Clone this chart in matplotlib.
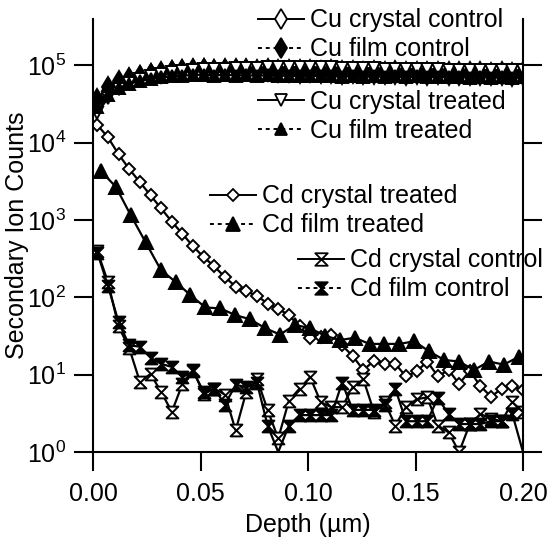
import matplotlib

matplotlib.use("Agg")

import matplotlib.pyplot as plt
import matplotlib.ticker as mticker
import numpy as np
from matplotlib.legend import Legend
from matplotlib.lines import Line2D
from matplotlib.path import Path

plt.rcParams["font.family"] = ["Liberation Sans", "DejaVu Sans"]
plt.rcParams["mathtext.default"] = "regular"

# ── data (counts) ──
depth = np.linspace(0.002, 0.2, 41)          # common depth grid, µm
depth_cd_film_treated = np.linspace(0.0037, 0.198, 29)

cu_crystal_control = [33000, 47000, 58000, 66000, 72000, 77000, 80000, 84000, 86000, 89000,
                      90000, 88000, 91000, 89000, 90000, 88000, 89000, 87000, 88000, 86000,
                      87000, 85000, 86000, 84000, 85000, 83000, 84000, 83000, 84000, 82000,
                      83000, 82000, 83000, 81000, 82000, 81000, 82000, 80000, 81000, 80000, 81000]
cu_film_control = [37000, 52000, 62000, 69000, 74000, 78000, 82000, 85000, 87000, 88000,
                   89000, 87000, 88000, 86000, 87000, 84000, 85000, 82000, 83000, 80000,
                   81000, 79000, 80000, 78000, 79000, 77000, 78000, 77000, 78000, 76000,
                   77000, 76000, 77000, 75000, 76000, 75000, 76000, 75000, 76000, 74000, 75000]
cu_crystal_treated = [24000, 38000, 50000, 59000, 66000, 72000, 77000, 81000, 84000, 87000,
                      89000, 90000, 91000, 92000, 93000, 93000, 94000, 94000, 95000, 95000,
                      95000, 94000, 94000, 93000, 93000, 92000, 92000, 91000, 91000, 90000,
                      90000, 89000, 89000, 88000, 88000, 88000, 87000, 87000, 87000, 86000, 86000]
cu_film_treated = [29000, 41000, 51000, 58000, 63000, 67000, 70000, 72000, 74000, 75000,
                   76000, 74000, 76000, 74000, 75000, 73000, 75000, 73000, 74000, 72000,
                   74000, 72000, 73000, 71000, 73000, 71000, 72000, 71000, 72000, 70000,
                   72000, 70000, 71000, 70000, 71000, 69000, 71000, 69000, 70000, 69000, 70000]
cd_crystal_treated = [17000, 11750, 7080, 4570, 3090, 2090, 1410, 955, 661, 457,
                      331, 251, 182, 138, 120, 105, 83, 71, 59, 42,
                      30, 31, 33, 24, 17.4, 11.5, 15.1, 13.8, 13.8, 9.5,
                      11.0, 14.8, 9.5, 11.5, 7.6, 11.2, 7.1, 5.2, 6.6, 7.1, 6.3]
cd_film_treated = [4270, 2690, 1150, 513, 229, 158, 107, 74, 72, 59,
                   52, 40, 33, 44, 40, 32, 28, 30, 25, 25,
                   25, 27, 20, 15.5, 14.8, 11.5, 14.8, 13.5, 17]
cd_crystal_control = [398, 158, 42, 22, 8.1, 10.2, 6.0, 3.3, 7.6, 11.5,
                      5.6, 6.6, 5.5, 1.9, 6.0, 8.9, 3.5, 1.5, 4.6, 6.6,
                      9.3, 4.4, 3.8, 3.8, 6.9, 8.7, 3.3, 4.4, 2.2, 3.8,
                      4.8, 5.1, 2.2, 1.8, 1.0, 2.3, 3.1, 2.7, 2.5, 4.4, 3.3]
cd_film_control = [380, 141, 48, 24, 23, 16.6, 13.8, 12.6, 9.3, 11.0,
                   6.0, 6.6, 4.1, 7.4, 6.9, 7.9, 2.2, 0, 2.2, 3.0,
                   3.0, 3.0, 3.0, 7.9, 3.5, 3.5, 3.5, 4.1, 6.6, 2.5,
                   2.5, 2.5, 5.0, 3.1, 2.3, 2.3, 2.3, 2.5, 2.5, 3.1, 0]

labels = ["Cu crystal control", "Cu film control", "Cu crystal treated", "Cu film treated",
          "Cd crystal treated", "Cd film treated", "Cd crystal control", "Cd film control"]

hourglass = Path([(-1, 1), (1, 1), (-1, -1), (1, -1), (-1, 1)],
                 [Path.MOVETO, Path.LINETO, Path.LINETO, Path.LINETO, Path.CLOSEPOLY])

# marker, filled, size
styles = {
    "Cu crystal control": ("d", False, 10),
    "Cu film control": ("d", True, 10),
    "Cu crystal treated": ("v", False, 8.5),
    "Cu film treated": ("^", True, 8.5),
    "Cd crystal treated": ("D", False, 6),
    "Cd film treated": ("^", True, 9.5),
    "Cd crystal control": (hourglass, False, 8.5),
    "Cd film control": (hourglass, True, 8.5),
}

series = [
    (depth, cu_crystal_control), (depth, cu_film_control),
    (depth, cu_crystal_treated), (depth, cu_film_treated),
    (depth, cd_crystal_treated), (depth_cd_film_treated, cd_film_treated),
    (depth, cd_crystal_control), (depth, cd_film_control),
]

W, H = 550, 538
FS = 18
fig = plt.figure(figsize=(W / 100, H / 100), dpi=100)
ax = fig.add_axes([93 / W, (H - 452) / H, (523 - 93) / W, (452 - 19) / H])

for name, (x, y) in zip(labels, series):
    m, filled, ms = styles[name]
    y = np.asarray(y, dtype=float)
    # zero counts: line drops to the axis floor, no marker drawn there
    keep = np.flatnonzero(y > 0).tolist()
    ax.plot(x, np.where(y > 0, y, 1.0), color="black", linewidth=1.6, marker=m, markersize=ms,
            markevery=keep, markerfacecolor="black" if filled else "white",
            markeredgecolor="black", markeredgewidth=1.4)

ax.set_yscale("log")
ax.set_xlim(0, 0.2)
ax.set_ylim(1, 10 ** 5.6)
ax.set_xticks([0, 0.05, 0.1, 0.15, 0.2])
ax.xaxis.set_major_formatter(mticker.FuncFormatter(lambda v, _: f"{v:.2f}"))
ax.yaxis.set_major_locator(mticker.LogLocator(base=10, numticks=10))
ax.yaxis.set_minor_locator(mticker.NullLocator())
ax.yaxis.set_major_formatter(mticker.FuncFormatter(lambda v, _: r"$10^{%d}$" % round(np.log10(v))))

for s in ["left", "right", "bottom"]:
    ax.spines[s].set_linewidth(1.5)
ax.spines["top"].set_visible(False)
ax.tick_params(which="major", direction="out", length=13.5, width=1.5,
               labelsize=FS, right=True, pad=6)
ax.tick_params(axis="x", pad=8)
ax.set_xlabel("Depth (µm)", fontsize=FS, labelpad=5)
ax.set_ylabel("Secondary Ion Counts", fontsize=FS)
ax.yaxis.set_label_coords(-0.148, 0.5)


def add_legend(names, x_px, y_px):
    handles = []
    for name in names:
        m, filled, ms = styles[name]
        ls = (0, (2, 2)) if "film" in name else "-"
        handles.append(Line2D([], [], color="black", linewidth=1.4, linestyle=ls, marker=m,
                              markersize=ms + 0.5, markerfacecolor="black" if filled else "white",
                              markeredgecolor="black", markeredgewidth=1.3))
    leg = Legend(ax, handles, names, loc="center left", bbox_to_anchor=(x_px / W, 1 - y_px / H),
                 bbox_transform=fig.transFigure, frameon=False, borderpad=0, borderaxespad=0,
                 handlelength=1.85, handletextpad=0.25, labelspacing=0.2, fontsize=FS)
    ax.add_artist(leg)


add_legend(labels[0:2], 258, 35)
add_legend(labels[2:4], 258, 116)
add_legend(labels[4:6], 210, 211)
add_legend(labels[6:8], 298, 275)

fig.savefig("out.png", dpi=100)
